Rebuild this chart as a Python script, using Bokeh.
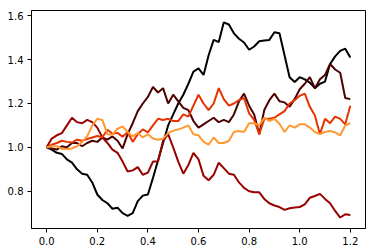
from bokeh.plotting import figure
from bokeh.models import FixedTicker, Range1d
from bokeh.embed import file_html
from bokeh.resources import INLINE

x = [round(i * 0.02, 2) for i in range(61)]

black = [1.00, 0.99, 0.975, 0.97, 0.945, 0.93, 0.90, 0.88, 0.875, 0.84,
         0.785, 0.76, 0.745, 0.72, 0.725, 0.70, 0.688, 0.70, 0.755, 0.78,
         0.785, 0.86, 0.94, 1.02, 1.10, 1.15, 1.20, 1.24, 1.29, 1.345,
         1.36, 1.33, 1.42, 1.49, 1.48, 1.57, 1.56, 1.52, 1.495, 1.478,
         1.445, 1.46, 1.484, 1.487, 1.49, 1.525, 1.52, 1.42, 1.32, 1.298,
         1.32, 1.31, 1.295, 1.27, 1.29, 1.30, 1.38, 1.415, 1.44, 1.45, 1.41]

maroon = [1.00, 0.995, 0.99, 1.005, 1.00, 1.02, 1.02, 1.005, 1.02, 1.03,
          1.025, 1.045, 1.035, 1.05, 1.03, 0.995, 1.06, 1.11, 1.165, 1.20,
          1.23, 1.275, 1.25, 1.27, 1.20, 1.24, 1.21, 1.18, 1.17, 1.12,
          1.09, 1.105, 1.12, 1.135, 1.115, 1.125, 1.115, 1.15, 1.21, 1.245,
          1.19, 1.15, 1.06, 1.17, 1.215, 1.245, 1.21, 1.205, 1.185, 1.22,
          1.265, 1.29, 1.32, 1.27, 1.31, 1.33, 1.38, 1.355, 1.34, 1.225, 1.22]

red = [1.00, 1.04, 1.055, 1.065, 1.10, 1.135, 1.115, 1.11, 1.125, 1.115,
       1.09, 1.046, 1.02, 0.99, 0.975, 0.935, 0.89, 0.895, 0.91, 0.875,
       0.885, 0.935, 0.935, 1.03, 1.06, 1.00, 0.935, 0.88, 0.92, 0.975,
       0.945, 0.87, 0.85, 0.875, 0.93, 0.905, 0.88, 0.875, 0.84, 0.815,
       0.80, 0.795, 0.795, 0.765, 0.745, 0.735, 0.728, 0.715, 0.722, 0.726,
       0.728, 0.74, 0.77, 0.778, 0.788, 0.765, 0.745, 0.71, 0.68, 0.695, 0.692]

orangered = [1.00, 1.012, 1.02, 1.03, 1.025, 1.022, 1.035, 1.03, 1.038, 1.045,
             1.052, 1.046, 1.08, 1.062, 1.066, 1.048, 1.07, 1.025, 1.06, 1.082,
             1.068, 1.10, 1.13, 1.125, 1.13, 1.12, 1.12, 1.15, 1.14, 1.19,
             1.24, 1.20, 1.17, 1.20, 1.27, 1.22, 1.19, 1.20, 1.215, 1.225,
             1.155, 1.125, 1.06, 1.13, 1.13, 1.135, 1.15, 1.165, 1.20, 1.215,
             1.235, 1.245, 1.185, 1.145, 1.06, 1.13, 1.11, 1.14, 1.13, 1.105, 1.19]

orange = [1.00, 1.005, 1.005, 0.993, 0.993, 0.995, 1.005, 1.025, 1.05, 1.10,
          1.13, 1.125, 1.06, 1.058, 1.085, 1.095, 1.07, 1.05, 1.065, 1.045,
          1.06, 1.04, 1.035, 1.04, 1.065, 1.076, 1.082, 1.09, 1.10, 1.06,
          1.055, 1.025, 1.012, 1.045, 1.02, 1.02, 1.03, 1.07, 1.075, 1.07,
          1.11, 1.11, 1.10, 1.135, 1.12, 1.13, 1.108, 1.07, 1.10, 1.09,
          1.105, 1.105, 1.09, 1.07, 1.06, 1.07, 1.075, 1.068, 1.055, 1.10, 1.11]

series = [black, maroon, red, orangered, orange]
colors = ["#000000", "#4c0000", "#990000", "#e63300", "#ff9933"]

x_ticks = [0.0, 0.2, 0.4, 0.6, 0.8, 1.0, 1.2]
x_tick_labels = ["0.0", "0.2", "0.4", "0.6", "0.8", "1.0", "1.2"]
y_ticks = [0.8, 1.0, 1.2, 1.4, 1.6]
y_tick_labels = ["0.8", "1.0", "1.2", "1.4", "1.6"]

p = figure(width=375, height=252, output_backend="svg", toolbar_location=None,
           x_range=Range1d(-0.06, 1.26), y_range=Range1d(0.63, 1.624),
           min_border_left=31, min_border_right=10, min_border_top=10,
           min_border_bottom=24)
p.background_fill_color = "white"
p.border_fill_color = "white"
p.outline_line_color = "black"
p.outline_line_width = 1
p.grid.visible = False

for ys, c in zip(series, colors):
    p.line(x, ys, line_color=c, line_width=2)

p.xaxis.ticker = FixedTicker(ticks=x_ticks)
p.xaxis.major_label_overrides = {t: l for t, l in zip(x_ticks, x_tick_labels)}
p.yaxis.ticker = FixedTicker(ticks=y_ticks)
p.yaxis.major_label_overrides = {t: l for t, l in zip(y_ticks, y_tick_labels)}

for ax in (p.xaxis, p.yaxis):
    ax.minor_tick_line_color = None
    ax.major_tick_in = 0
    ax.major_tick_out = 4
    ax.major_tick_line_color = "black"
    ax.axis_line_color = "black"
    ax.major_label_text_font = "DejaVu Sans"
    ax.major_label_text_font_size = "10px"
    ax.major_label_text_color = "black"
    ax.major_label_standoff = 4

open("out.html", "w").write(file_html(p, INLINE))
